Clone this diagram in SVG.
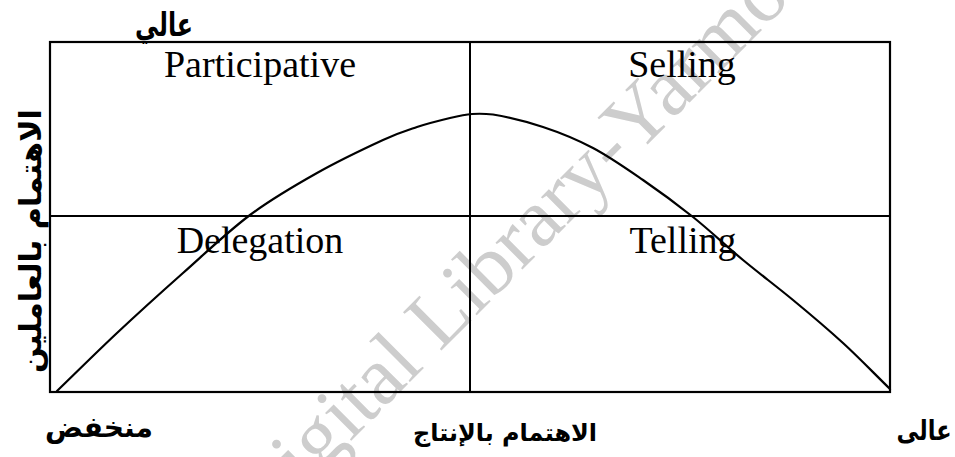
<svg xmlns="http://www.w3.org/2000/svg" width="955" height="457" viewBox="0 0 955 457">
<style>
.bg{fill:#ffffff}
.wm{font-family:"Liberation Serif","Times New Roman",serif;font-size:83px;fill:#cdcdcd}
.frame{fill:none;stroke:#000;stroke-width:2.2}
.grid{fill:none;stroke:#000;stroke-width:2}
.curve{fill:none;stroke:#000;stroke-width:2.2;stroke-linejoin:round;stroke-linecap:round}
.lbl{font-family:"Liberation Serif","Times New Roman",serif;font-size:38px;fill:#000;text-anchor:middle}
.ar{font-family:"DejaVu Sans","Noto Sans",sans-serif;font-weight:bold;fill:#000;text-anchor:middle}
</style>
<rect class="bg" x="0" y="0" width="955" height="457"/>
<g id="watermark">
<text class="wm" transform="translate(262,530) rotate(-45)">Digital Library-Yarmouk</text>
</g>
<g id="frame">
<rect class="frame" x="50" y="42" width="840" height="350"/>
</g>
<g id="connectors">
<line class="grid" x1="470" y1="42" x2="470" y2="392"/>
<line class="grid" x1="50" y1="216" x2="890" y2="216"/>
<path class="curve" d="M57,391 C77,371.7 96,352.7 117,333 C138,313.3 160.8,292.7 183,273 C205.2,253.3 227.7,231.7 250,215 C272.3,198.3 294.8,185.5 317,173 C339.2,160.5 366.3,147.7 383,140 C399.7,132.3 405.8,130.7 417,127 C428.2,123.3 440.8,120.2 450,118 C459.2,115.8 464.8,114.5 472,114 C479.2,113.5 484,113.5 493,114.5 C504.8,116.5 526.3,121.5 543,127 C559.7,132.5 576.3,139.2 593,148 C609.7,156.8 626.3,168.5 643,180 C659.7,191.5 676.3,203.7 693,217 C709.7,230.3 726.3,246.2 743,260 C759.7,273.8 776.3,286.2 793,300 C809.7,313.8 826.8,328.2 843,343 C859.2,357.8 874.3,373.7 890,389"/>
</g>
<g id="participative"><text class="lbl" x="260" y="77">Participative</text></g>
<g id="selling"><text class="lbl" x="682" y="77">Selling</text></g>
<g id="delegation"><text class="lbl" x="260" y="253">Delegation</text></g>
<g id="telling"><text class="lbl" x="683" y="253">Telling</text></g>
<g id="y-high"><text class="ar" x="164" y="36" font-size="33" textLength="58" lengthAdjust="spacingAndGlyphs">عالي</text></g>
<g id="y-axis"><text class="ar" transform="translate(41,241) rotate(-90)" font-size="30" textLength="264" lengthAdjust="spacingAndGlyphs">الاهتمام بالعاملين</text></g>
<g id="x-low"><text class="ar" x="99" y="437" font-size="28" textLength="108" lengthAdjust="spacingAndGlyphs">منخفض</text></g>
<g id="x-axis"><text class="ar" x="505" y="441" font-size="24" textLength="184" lengthAdjust="spacingAndGlyphs">الاهتمام بالإنتاج</text></g>
<g id="x-high"><text class="ar" x="924" y="440" font-size="28" textLength="55" lengthAdjust="spacingAndGlyphs">عالى</text></g>
</svg>
